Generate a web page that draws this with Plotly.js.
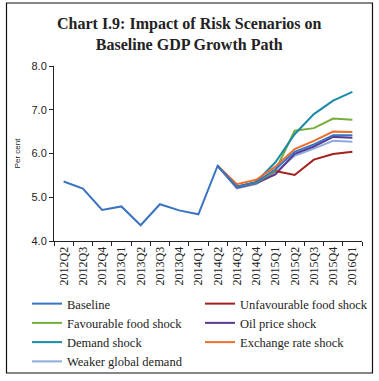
<!DOCTYPE html>
<html>
<head>
<meta charset="utf-8">
<script src="https://cdn.plot.ly/plotly-3.0.1.min.js"></script>
<style>
html,body{margin:0;padding:0;background:#fff;}
#chart{width:379px;height:381px;}
</style>
</head>
<body>
<div id="chart"></div>
<script>
var categories = ["2012Q2","2012Q3","2012Q4","2013Q1","2013Q2","2013Q3","2013Q4","2014Q1",
                  "2014Q2","2014Q3","2014Q4","2015Q1","2015Q2","2015Q3","2015Q4","2016Q1"];
var baseline      = [5.36,5.20,4.71,4.79,4.36,4.84,4.70,4.61,5.72,5.24,5.34,5.64,6.04,6.21,6.42,6.42];
var unfavourable  = [null,null,null,null,null,null,null,null,5.72,5.24,5.34,5.60,5.51,5.86,5.99,6.04];
var favourable    = [null,null,null,null,null,null,null,null,5.72,5.24,5.33,5.61,6.52,6.58,6.80,6.77];
var oilPrice      = [null,null,null,null,null,null,null,null,5.72,5.22,5.32,5.52,5.99,6.16,6.38,6.36];
var demandShock   = [null,null,null,null,null,null,null,null,5.72,5.24,5.35,5.80,6.44,6.90,7.21,7.41];
var exchangeRate  = [null,null,null,null,null,null,null,null,5.72,5.30,5.40,5.70,6.10,6.29,6.50,6.49];
var weakerGlobal  = [null,null,null,null,null,null,null,null,5.72,5.20,5.30,5.57,5.95,6.11,6.29,6.27];
var seriesNames = ["Baseline","Unfavourable food shock","Favourable food shock","Oil price shock",
                   "Demand shock","Exchange rate shock","Weaker global demand"];
var yTicks = [4,5,6,7,8];
var chartTitle = "<b>Chart I.9: Impact of Risk Scenarios on<br>Baseline GDP Growth Path</b>";

var colors = ["#3a74c1","#a3201f","#76ad3c","#5a3b94","#1a8aa6","#ee6d2a","#8faadc"];
var values = [baseline, unfavourable, favourable, oilPrice, demandShock, exchangeRate, weakerGlobal];
var drawOrder = [6,3,1,2,4,5,0];

var traces = drawOrder.map(function(i){
  return {
    type:"scatter", mode:"lines", x:categories, y:values[i], name:seriesNames[i],
    legendrank:i+1, line:{color:colors[i], width:2}, connectgaps:false, hoverinfo:"x+y+name"
  };
});

var W=379, H=381, mL=54, mR=17, mT=66, mB=140;
var pw=W-mL-mR, ph=H-mT-mB;
function px(x){return (x-mL)/pw;}
function py(y){return (H-mB-y)/ph;}

var layout = {
  width:W, height:H,
  margin:{l:mL, r:mR, t:mT, b:mB, pad:0, autoexpand:false},
  paper_bgcolor:"#fff", plot_bgcolor:"#fff",
  showlegend:true,
  annotations:[{text:chartTitle, xref:"paper", yref:"paper", x:px(189.5), y:py(33.5),
                xanchor:"center", yanchor:"middle", showarrow:false, align:"center",
                font:{family:"Liberation Serif", size:16, color:"#222"}}],
  xaxis:{type:"category", range:[-0.5,15.5], tickson:"boundaries", ticks:"outside", ticklen:4,
         tickcolor:"#222", showline:true, linecolor:"#222", linewidth:1, showgrid:false,
         zeroline:false, tickangle:-90,
         tickfont:{family:"Liberation Serif", size:12, color:"#222"}, fixedrange:true},
  yaxis:{range:[4,8], tickvals:yTicks, tickformat:".1f", ticks:"outside", ticklen:4,
         tickcolor:"#222", showline:true, linecolor:"#222", linewidth:1, showgrid:false,
         zeroline:false, tickfont:{family:"Liberation Sans", size:11, color:"#222"},
         title:{text:"Per cent", font:{family:"Liberation Sans", size:8, color:"#222"}, standoff:9},
         fixedrange:true},
  legend:{orientation:"h", x:px(27), xanchor:"left", y:py(289), yanchor:"top",
          entrywidth:128, entrywidthmode:"pixels", traceorder:"normal",
          font:{family:"Liberation Serif", size:12.5, color:"#222"},
          bgcolor:"rgba(0,0,0,0)", itemwidth:30},
  shapes:[{type:"rect", xref:"paper", yref:"paper", x0:px(6.5), x1:px(372.5), y0:py(373), y1:py(3),
           line:{color:"#111", width:1.2}, fillcolor:"rgba(0,0,0,0)", layer:"below"}]
};

Plotly.newPlot("chart", traces, layout, {displayModeBar:false, staticPlot:true});
</script>
</body>
</html>
